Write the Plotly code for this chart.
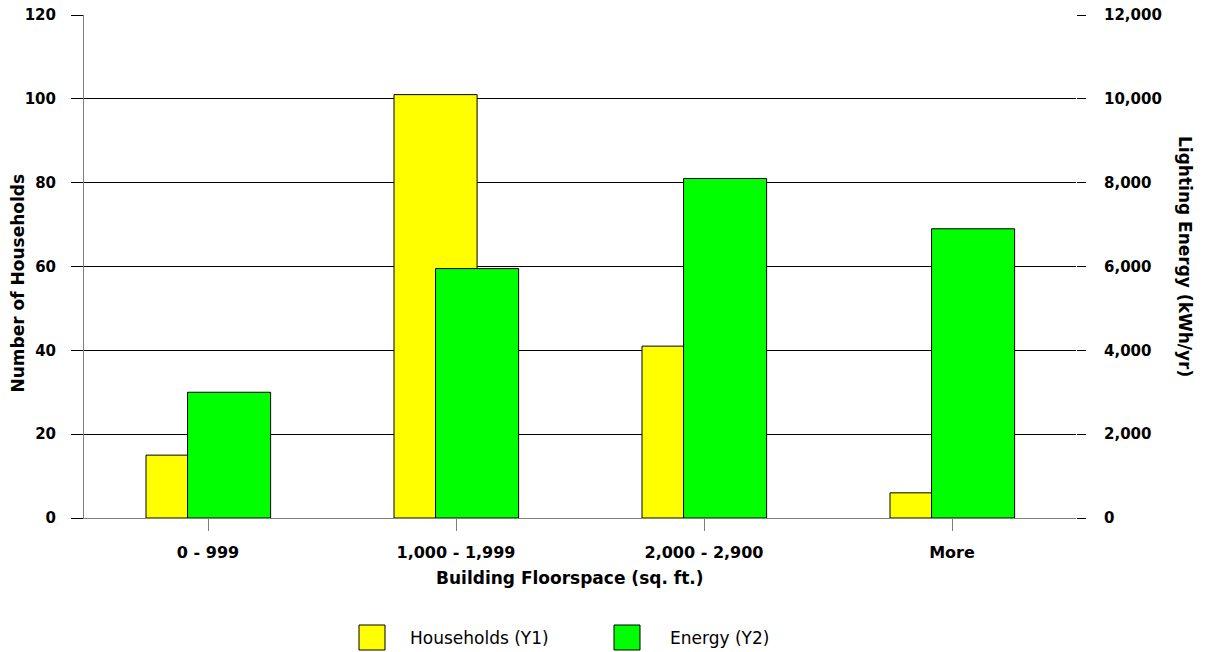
import plotly.graph_objects as go

categories = ["0 - 999", "1,000 - 1,999", "2,000 - 2,900", "More"]
households = [15, 101, 41, 6]
energy = [3000, 5950, 8100, 6900]
left_ticks = [0, 20, 40, 60, 80, 100, 120]
right_ticks = [0, 2000, 4000, 6000, 8000, 10000, 12000]

W, H = 1205, 652
L, R, T, B = 84, 1076, 15, 518


def px(x):
    return (x - L) / (R - L)


def py(y):
    return (B - y) / (B - T)


FONT = "DejaVu Sans, Arial, sans-serif"
bar_w = 0.335

fig = go.Figure()
fig.add_trace(go.Bar(
    x=categories, y=households, name="Households (Y1)", yaxis="y",
    width=bar_w, offset=-0.25,
    marker=dict(color="#ffff00", line=dict(color="#000000", width=1)),
))
fig.add_trace(go.Bar(
    x=categories, y=energy, name="Energy (Y2)", yaxis="y2",
    width=bar_w, offset=-0.25 + bar_w / 2,
    marker=dict(color="#00ff00", line=dict(color="#000000", width=1)),
))

ytick_font = dict(family=FONT, size=15, color="#000000", weight="bold")
xtick_font = dict(family=FONT, size=16, color="#000000", weight="bold")

fig.update_layout(
    width=W, height=H,
    margin=dict(l=L, r=W - R, t=T, b=H - B, pad=0, autoexpand=False),
    paper_bgcolor="white", plot_bgcolor="white",
    barmode="overlay", showlegend=False,
    xaxis=dict(
        type="category", range=[-0.5, 3.5], automargin=False,
        showline=True, linecolor="#808080", linewidth=1,
        ticks="outside", ticklen=12, tickcolor="#808080",
        tickfont=xtick_font, showgrid=False, zeroline=False,
        ticklabelstandoff=8,
    ),
    yaxis=dict(
        range=[0, 120], tickvals=left_ticks, automargin=False,
        showline=True, linecolor="#808080", linewidth=1,
        ticks="outside", ticklen=12, tickcolor="#000000",
        showgrid=True, gridcolor="#000000", gridwidth=1,
        zeroline=False, tickfont=ytick_font, ticklabelstandoff=12,
    ),
    yaxis2=dict(
        range=[0, 12000], tickvals=right_ticks, tickformat=",",
        overlaying="y", side="right", showline=False, automargin=False,
        ticks="outside", ticklen=9, tickcolor="#000000",
        showgrid=False, zeroline=False, tickfont=ytick_font,
        ticklabelstandoff=15,
    ),
)

title_font = dict(family=FONT, size=17, color="#000000", weight="bold")
fig.add_annotation(text="Number of Households", xref="paper", yref="paper",
                   x=px(17), y=py(283.5), textangle=-90, showarrow=False,
                   xanchor="center", yanchor="middle", font=title_font)
fig.add_annotation(text="Lighting Energy (kWh/yr)", xref="paper", yref="paper",
                   x=px(1185), y=py(256), textangle=90, showarrow=False,
                   xanchor="center", yanchor="middle", font=title_font)
fig.add_annotation(text="Building Floorspace (sq. ft.)", xref="paper", yref="paper",
                   x=px(570), y=py(578), showarrow=False,
                   xanchor="center", yanchor="middle", font=title_font)

# legend drawn as swatches with labels
legend_items = [("Households (Y1)", "#ffff00", 359, 408),
                ("Energy (Y2)", "#00ff00", 614, 668)]
for label, color, sx, tx in legend_items:
    fig.add_shape(type="rect", xref="paper", yref="paper",
                  x0=px(sx), x1=px(sx + 26), y0=py(650), y1=py(625),
                  fillcolor=color, line=dict(color="#000000", width=1))
    fig.add_annotation(text=label, xref="paper", yref="paper",
                       x=px(tx), y=py(638), showarrow=False,
                       xanchor="left", yanchor="middle",
                       font=dict(family=FONT, size=17, color="#000000"))

fig.write_html("out.html")
